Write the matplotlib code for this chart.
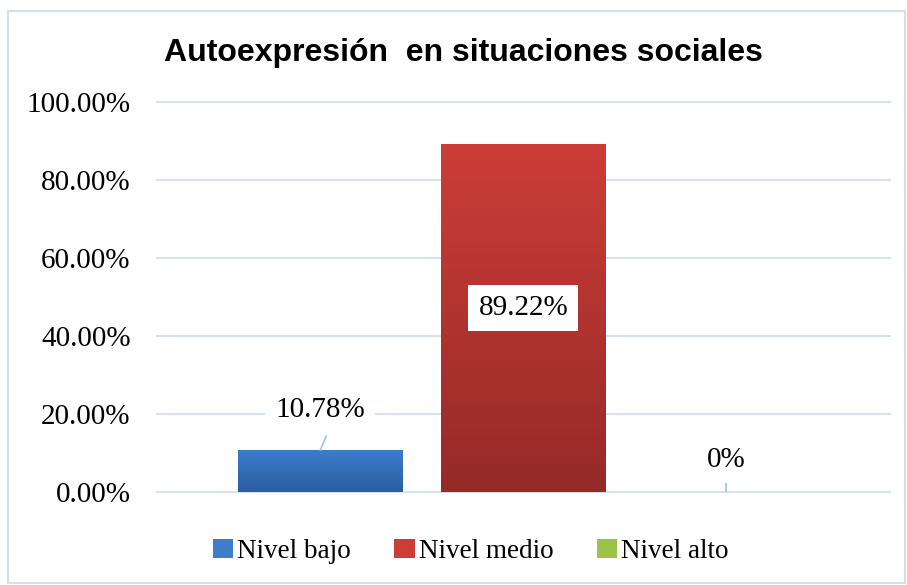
import numpy as np
import matplotlib
matplotlib.use("Agg")
import matplotlib.pyplot as plt
from matplotlib.patches import Rectangle
from matplotlib.colors import LinearSegmentedColormap

# Datos del gráfico
series = ["Nivel bajo", "Nivel medio", "Nivel alto"]
valores = [0.1078, 0.8922, 0.0]
etiquetas = ["10.78%", "89.22%", "0%"]
yticks = [0.0, 0.2, 0.4, 0.6, 0.8, 1.0]
ytick_labels = ["0.00%", "20.00%", "40.00%", "60.00%", "80.00%", "100.00%"]

colores_arriba = ["#3d7dcc", "#cd3d38", "#9bc34a"]
colores_abajo = ["#2c5e9e", "#952a27", "#76983a"]

serif = ["Liberation Serif", "DejaVu Serif"]
sans = ["Liberation Sans", "DejaVu Sans"]

fig = plt.figure(figsize=(9.07, 5.85), dpi=100)
ax = fig.add_axes([0.173, 0.159, 0.808, 0.667])

# borde exterior del gráfico
fig.patches.append(Rectangle((0.009, 0.003), 0.989, 0.979, transform=fig.transFigure,
                             fill=False, edgecolor="#d5dff0", linewidth=1.5))

ancho = 0.225
posiciones = [-0.277, 0.0, 0.277]
for i in range(3):
    b = ax.bar(posiciones[i], valores[i], width=ancho, color=colores_arriba[i],
               label=series[i], zorder=3)
    # degradado vertical
    if valores[i] > 0:
        cmap = LinearSegmentedColormap.from_list("g%d" % i, [colores_abajo[i], colores_arriba[i]])
        grad = np.linspace(0, 1, 256).reshape(-1, 1)
        im = ax.imshow(grad, cmap=cmap, aspect="auto", origin="lower",
                       extent=[posiciones[i] - ancho / 2, posiciones[i] + ancho / 2, 0, valores[i]],
                       zorder=3.5)
        im.set_clip_path(b[0])

ax.set_xlim(-0.5, 0.5)
ax.set_ylim(0, 1.0)
ax.set_yticks(yticks)
ax.set_yticklabels(ytick_labels, fontfamily=serif, fontsize=21)
ax.set_xticks([])
ax.tick_params(axis="y", length=0, pad=19)
for s in ax.spines.values():
    s.set_visible(False)
ax.grid(axis="y", color="#d6e1f1", linewidth=1.5, zorder=0, clip_on=False)
ax.set_axisbelow(True)

caja = dict(boxstyle="square,pad=0.35", facecolor="white", edgecolor="none")
linea = "#9dc3e6"

# etiqueta nivel bajo
ax.plot([posiciones[0], posiciones[0] + 0.008], [valores[0], valores[0] + 0.035],
        color=linea, linewidth=1.2, zorder=4)
ax.text(posiciones[0], 0.21, etiquetas[0], ha="center", va="center",
        fontfamily=serif, fontsize=21, bbox=caja, zorder=5)

# etiqueta nivel medio
ax.text(posiciones[1], 0.472, etiquetas[1], ha="center", va="center",
        fontfamily=serif, fontsize=21, bbox=caja, zorder=5)

# etiqueta nivel alto
ax.plot([posiciones[2], posiciones[2]], [0, 0.038], color=linea, linewidth=1.2, zorder=4)
ax.text(posiciones[2], 0.082, etiquetas[2], ha="center", va="center",
        fontfamily=serif, fontsize=21, bbox=caja, zorder=5)

fig.text(0.511, 0.91, "Autoexpresión  en situaciones sociales", ha="center", va="center",
         fontfamily=sans, fontweight="bold", fontsize=23)

ax.legend(loc="center", bbox_to_anchor=(0.428, -0.152), ncol=3, frameon=False,
          prop={"family": serif, "size": 19.5}, handlelength=0.75, handleheight=0.75,
          handletextpad=0.15, columnspacing=1.6)

fig.savefig("out.png", dpi=100)
